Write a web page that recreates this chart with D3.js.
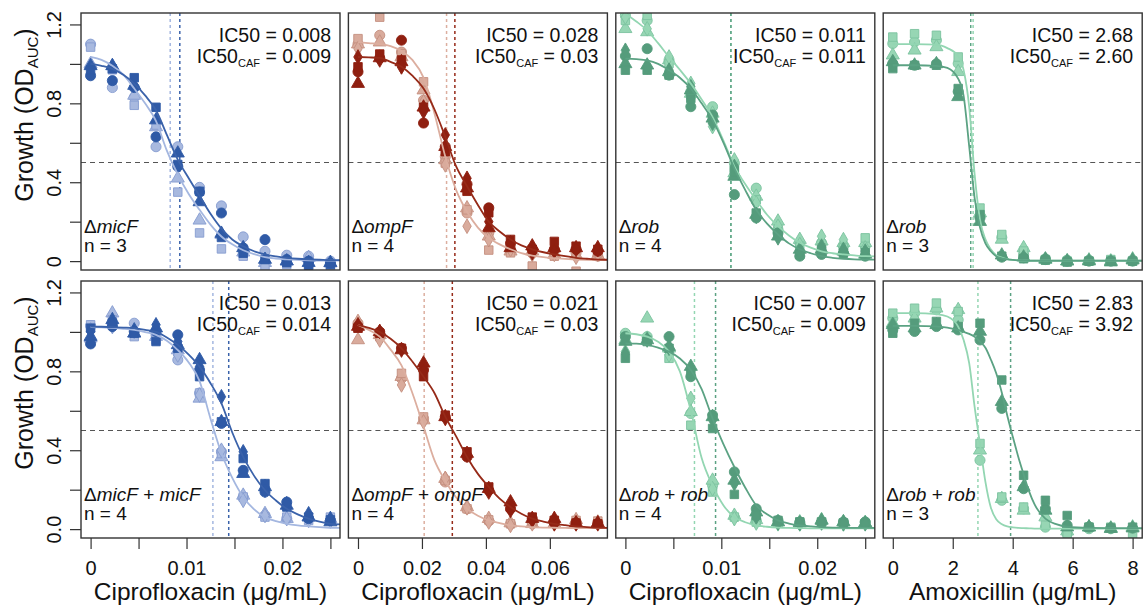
<!DOCTYPE html>
<html>
<head>
<meta charset="utf-8">
<script src="https://cdn.jsdelivr.net/npm/d3@7"></script>
<style>
  body { margin: 0; background: #fff; }
  svg { display: block; font-family: "Liberation Sans", Arial, sans-serif; }
</style>
</head>
<body>
<svg width="1146" height="608"></svg>
<script>
// concentrations (x values of the 12 wells)
const ciproLow = [0, 0.00227, 0.00455, 0.00682, 0.00909, 0.01136, 0.01364, 0.01591, 0.01818, 0.02045, 0.02273, 0.025];
const ciproHigh = [0, 0.0068, 0.0136, 0.0205, 0.0273, 0.0341, 0.0409, 0.0477, 0.0545, 0.0614, 0.0682, 0.075];
const amox = [0, 0.727, 1.455, 2.182, 2.909, 3.636, 4.364, 5.091, 5.818, 6.545, 7.273, 8];

// x positions where the fitted curves were read
const ciproLowFine = [0, 0.00114, 0.00227, 0.00341, 0.00455, 0.00568, 0.00682, 0.00795, 0.00909, 0.01023, 0.01136, 0.0125, 0.01364, 0.01477, 0.01591, 0.01705, 0.01818, 0.01932, 0.02045, 0.02159, 0.02273, 0.02386, 0.025, 0.026];
const ciproHighFine = [0, 0.0034, 0.0068, 0.0102, 0.0136, 0.017, 0.0205, 0.0239, 0.0273, 0.0307, 0.0341, 0.0375, 0.0409, 0.0443, 0.0477, 0.0511, 0.0545, 0.058, 0.0614, 0.0648, 0.0682, 0.0716, 0.075, 0.078];
const amoxFine = [0, 0.73, 1.45, 1.82, 2.18, 2.36, 2.55, 2.73, 2.91, 3.09, 3.27, 3.45, 3.64, 3.82, 4.0, 4.18, 4.36, 4.55, 4.73, 5.09, 5.45, 5.82, 6.55, 7.27, 8, 8.32];

// replicate growth values: one row per replicate (circle, triangle, square, diamond)
const micFDark = [
  [0.94, 0.915, 0.88, 0.63, 0.48, 0.35, 0.244, 0.067, 0.109, 0.008, 0.0, -0.01],
  [0.99, 0.99, 0.89, 0.715, 0.547, 0.30, 0.14, 0.067, 0.008, 0.0, -0.008, -0.008],
  [0.97, 0.975, 0.93, 0.78, 0.49, 0.354, 0.12, 0.04, 0.008, -0.008, -0.025, -0.017]
];
const micFLight = [
  [1.10, 0.88, 0.83, 0.58, 0.58, 0.374, 0.28, 0.123, 0.05, 0.03, 0.025, 0.0],
  [1.00, 0.99, 0.84, 0.68, 0.42, 0.207, 0.135, 0.045, -0.008, 0.0, 0.017, -0.01],
  [1.085, 0.97, 0.79, 0.69, 0.35, 0.143, 0.062, 0.025, -0.025, -0.017, -0.017, -0.025]
];
const ompFDark = [
  [0.96, 1.03, 1.12, 0.70, 0.58, 0.39, 0.27, 0.09, 0.06, 0.06, 0.06, 0.05],
  [0.90, 1.03, 1.01, 0.78, 0.58, 0.37, 0.168, 0.067, 0.076, 0.067, 0.067, 0.067],
  [0.985, 1.05, 1.02, 0.78, 0.555, 0.354, 0.245, 0.11, 0.06, 0.10, 0.076, 0.06],
  [1.035, 1.02, 0.985, 0.758, 0.64, 0.42, 0.20, 0.093, 0.042, 0.05, 0.059, 0.059]
];
const ompFLight = [
  [1.10, 1.145, 1.06, 0.816, 0.53, 0.244, 0.143, 0.067, 0.04, 0.051, 0.042, 0.025],
  [1.10, 1.11, 1.035, 0.867, 0.513, 0.269, 0.126, 0.05, 0.051, 0.034, 0.03, 0.03],
  [1.128, 1.237, 1.052, 0.909, 0.497, 0.26, 0.056, 0.042, -0.025, 0.025, -0.051, 0.042],
  [1.077, 1.035, 0.985, 0.808, 0.488, 0.177, 0.109, 0.059, 0.034, 0.034, 0.02, 0.034]
];
const robCipDark = [
  [1.04, 1.077, 0.943, 0.783, 0.741, 0.337, 0.219, 0.143, 0.025, 0.034, 0.04, 0.025],
  [1.0, 0.993, 0.96, 0.867, 0.724, 0.429, 0.236, 0.126, 0.059, 0.059, 0.05, 0.034],
  [0.968, 0.968, 0.943, 0.825, 0.732, 0.455, 0.244, 0.135, 0.034, 0.051, 0.04, 0.042],
  [1.069, 0.985, 0.968, 0.884, 0.699, 0.48, 0.227, 0.118, 0.042, 0.076, 0.06, 0.051]
];
const robCipLight = [
  [1.246, 1.22, 1.019, 0.859, 0.783, 0.497, 0.37, 0.16, 0.093, 0.093, 0.076, 0.076],
  [1.178, 1.162, 1.019, 0.85, 0.749, 0.446, 0.328, 0.202, 0.109, 0.101, 0.093, 0.093],
  [1.22, 1.246, 1.002, 0.842, 0.715, 0.471, 0.311, 0.16, 0.076, 0.067, 0.067, 0.118],
  [1.237, 1.178, 1.035, 0.901, 0.682, 0.513, 0.295, 0.177, 0.084, 0.126, 0.109, 0.067]
];
const robAmoxDark = [
  [1.002, 0.993, 1.0, 0.859, 0.219, 0.02, 0.017, 0.008, 0.0, 0.0, 0.0, 0.0],
  [1.01, 0.993, 1.0, 0.833, 0.20, 0.03, 0.02, 0.01, 0.0, 0.0, -0.005, 0.005],
  [0.976, 0.993, 0.993, 0.875, 0.236, 0.025, 0.012, 0.005, -0.005, 0.0, 0.0, 0.0]
];
const robAmoxLight = [
  [1.103, 1.111, 1.12, 1.002, 0.227, 0.12, 0.034, 0.012, 0.005, 0.005, 0.005, 0.005],
  [1.044, 1.069, 1.086, 0.96, 0.244, 0.11, 0.067, 0.008, 0.0, 0.005, 0.0, 0.01],
  [1.136, 1.153, 1.145, 1.035, 0.269, 0.135, 0.051, 0.008, 0.0, 0.0, 0.008, 0.0]
];
const micFCompDark = [
  [0.939, 1.027, 1.002, 1.002, 0.985, 0.807, 0.536, 0.298, 0.188, 0.137, 0.053, 0.044],
  [0.976, 1.061, 0.993, 1.019, 0.934, 0.858, 0.544, 0.281, 0.214, 0.12, 0.061, 0.036],
  [1.019, 1.044, 0.993, 0.951, 0.917, 0.773, 0.544, 0.358, 0.231, 0.112, 0.061, 0.047],
  [1.002, 1.036, 1.01, 1.036, 0.951, 0.824, 0.671, 0.392, 0.197, 0.129, 0.078, 0.053]
];
const micFCompLight = [
  [1.031, 1.036, 1.044, 0.985, 0.858, 0.69, 0.392, 0.163, 0.069, 0.053, 0.053, 0.044],
  [0.968, 1.095, 0.993, 0.976, 0.908, 0.663, 0.366, 0.171, 0.078, 0.053, 0.061, 0.053],
  [1.036, 1.061, 0.976, 0.959, 0.90, 0.69, 0.383, 0.163, 0.061, 0.061, 0.044, 0.061],
  [1.01, 1.027, 1.002, 0.976, 0.883, 0.68, 0.40, 0.146, 0.069, 0.053, 0.044, 0.041]
];
const ompFCompDark = [
  [1.027, 1.0, 0.917, 0.807, 0.569, 0.366, 0.197, 0.103, 0.053, 0.031, 0.031, 0.027],
  [1.027, 1.0, 0.908, 0.841, 0.569, 0.383, 0.205, 0.137, 0.053, 0.053, 0.031, 0.031],
  [1.019, 0.993, 0.917, 0.773, 0.578, 0.392, 0.214, 0.112, 0.061, 0.044, 0.031, 0.027],
  [1.036, 1.002, 0.908, 0.798, 0.561, 0.375, 0.188, 0.095, 0.044, 0.027, 0.027, 0.027]
];
const ompFCompLight = [
  [1.044, 0.976, 0.764, 0.561, 0.239, 0.103, 0.041, 0.027, 0.027, 0.036, 0.036, 0.036],
  [0.959, 0.985, 0.773, 0.553, 0.256, 0.112, 0.053, 0.031, 0.027, 0.027, 0.047, 0.031],
  [1.019, 0.976, 0.79, 0.569, 0.247, 0.103, 0.047, 0.027, 0.031, 0.044, 0.044, 0.041],
  [1.053, 0.959, 0.731, 0.544, 0.256, 0.108, 0.036, 0.019, 0.027, 0.027, 0.027, 0.036]
];
const robCipCompDark = [
  [0.976, 0.959, 0.976, 0.773, 0.578, 0.29, 0.103, 0.044, 0.036, 0.036, 0.036, 0.036],
  [0.951, 0.959, 0.925, 0.824, 0.569, 0.247, 0.086, 0.036, 0.031, 0.044, 0.036, 0.031],
  [0.866, 0.951, 0.917, 0.79, 0.51, 0.176, 0.069, 0.044, 0.036, 0.036, 0.031, 0.027],
  [0.892, 0.959, 0.917, 0.807, 0.553, 0.231, 0.061, 0.031, 0.027, 0.031, 0.027, 0.027]
];
const robCipCompLight = [
  [0.993, 0.976, 0.908, 0.586, 0.222, 0.061, 0.044, 0.036, 0.031, 0.031, 0.031, 0.036],
  [0.959, 1.069, 0.917, 0.595, 0.247, 0.069, 0.047, 0.036, 0.036, 0.047, 0.036, 0.031],
  [0.976, 0.959, 0.866, 0.527, 0.188, 0.061, 0.036, 0.031, 0.036, 0.036, 0.031, 0.027],
  [0.90, 0.968, 0.883, 0.663, 0.205, 0.053, 0.031, 0.027, 0.027, 0.036, 0.027, 0.031]
];
const robAmoxCompDark = [
  [1.01, 1.002, 1.027, 1.01, 0.959, 0.612, 0.205, 0.103, 0.019, 0.01, 0.005, 0.005],
  [1.036, 1.019, 1.036, 1.019, 1.002, 0.646, 0.214, 0.095, 0.01, 0.01, 0.002, 0.005],
  [0.993, 1.044, 1.053, 1.027, 1.044, 0.756, 0.273, 0.146, 0.069, 0.01, 0.005, 0.01]
];
const robAmoxCompLight = [
  [1.069, 1.095, 1.112, 1.061, 0.349, 0.146, 0.103, 0.01, -0.024, 0.002, 0.002, 0.002],
  [1.044, 1.069, 1.12, 1.112, 0.40, 0.154, 0.095, 0.061, -0.01, 0.01, 0.005, 0.01],
  [1.095, 1.12, 1.146, 1.103, 0.434, 0.163, 0.112, 0.019, -0.024, 0.01, 0.01, -0.024]
];

// fitted curves, read at the *Fine x positions
const micFDarkFit = [1.00, 0.99, 0.975, 0.945, 0.90, 0.84, 0.765, 0.64, 0.515, 0.42, 0.33, 0.24, 0.165, 0.11, 0.075, 0.05, 0.034, 0.024, 0.017, 0.012, 0.009, 0.007, 0.005, 0.005];
const micFLightFit = [1.035, 1.02, 0.99, 0.945, 0.875, 0.80, 0.71, 0.56, 0.44, 0.34, 0.26, 0.185, 0.125, 0.085, 0.055, 0.035, 0.02, 0.013, 0.009, 0.006, 0.004, 0.003, 0.003, 0.003];
const ompFDarkFit = [1.035, 1.033, 1.03, 1.01, 0.985, 0.94, 0.875, 0.77, 0.63, 0.48, 0.38, 0.285, 0.20, 0.15, 0.11, 0.08, 0.06, 0.045, 0.034, 0.025, 0.017, 0.012, 0.008, 0.007];
const ompFLightFit = [1.11, 1.105, 1.10, 1.09, 1.065, 1.02, 0.93, 0.75, 0.53, 0.36, 0.25, 0.17, 0.118, 0.085, 0.06, 0.04, 0.028, 0.02, 0.015, 0.011, 0.008, 0.006, 0.005, 0.005];
const robCipDarkFit = [1.027, 1.024, 1.018, 1.0, 0.968, 0.93, 0.875, 0.80, 0.715, 0.60, 0.47, 0.36, 0.26, 0.19, 0.135, 0.09, 0.06, 0.04, 0.025, 0.017, 0.012, 0.009, 0.008, 0.008];
const robCipLightFit = [1.254, 1.215, 1.17, 1.105, 1.035, 0.97, 0.90, 0.82, 0.73, 0.61, 0.48, 0.39, 0.31, 0.235, 0.177, 0.13, 0.093, 0.068, 0.05, 0.04, 0.034, 0.029, 0.025, 0.024];
const robAmoxDarkFit = [0.993, 0.993, 0.99, 0.98, 0.925, 0.84, 0.58, 0.32, 0.17, 0.09, 0.05, 0.025, 0.014, 0.009, 0.006, 0.004, 0.003, 0.002, 0.002, 0.002, 0.002, 0.002, 0.002, 0.002, 0.002, 0.002];
const robAmoxLightFit = [1.10, 1.10, 1.098, 1.08, 1.04, 0.97, 0.78, 0.44, 0.21, 0.11, 0.06, 0.03, 0.018, 0.01, 0.006, 0.004, 0.003, 0.003, 0.003, 0.003, 0.003, 0.003, 0.003, 0.003, 0.003, 0.003];
const micFCompDarkFit = [1.027, 1.026, 1.024, 1.022, 1.019, 1.01, 1.0, 0.972, 0.934, 0.885, 0.824, 0.74, 0.637, 0.49, 0.366, 0.27, 0.197, 0.145, 0.103, 0.075, 0.053, 0.038, 0.027, 0.024];
const micFCompLightFit = [1.024, 1.023, 1.02, 1.016, 1.01, 0.999, 0.985, 0.955, 0.908, 0.845, 0.75, 0.56, 0.385, 0.26, 0.163, 0.10, 0.061, 0.04, 0.027, 0.019, 0.014, 0.01, 0.007, 0.006];
const ompFCompDarkFit = [1.036, 1.02, 1.0, 0.965, 0.917, 0.85, 0.773, 0.69, 0.57, 0.47, 0.366, 0.28, 0.214, 0.155, 0.112, 0.078, 0.053, 0.038, 0.027, 0.02, 0.014, 0.01, 0.007, 0.006];
const ompFCompLightFit = [1.036, 1.01, 0.976, 0.91, 0.83, 0.69, 0.52, 0.35, 0.245, 0.16, 0.103, 0.068, 0.044, 0.03, 0.019, 0.014, 0.01, 0.008, 0.007, 0.006, 0.005, 0.005, 0.005, 0.005];
const robCipCompDarkFit = [0.942, 0.94, 0.934, 0.92, 0.9, 0.865, 0.807, 0.71, 0.56, 0.43, 0.315, 0.21, 0.12, 0.075, 0.044, 0.028, 0.019, 0.014, 0.01, 0.008, 0.007, 0.006, 0.006, 0.006];
const robCipCompLightFit = [0.993, 0.988, 0.976, 0.95, 0.9, 0.8, 0.6, 0.36, 0.22, 0.12, 0.061, 0.035, 0.019, 0.012, 0.008, 0.006, 0.005, 0.004, 0.004, 0.004, 0.004, 0.004, 0.004, 0.004];
const robAmoxCompDarkFit = [1.03, 1.03, 1.028, 1.022, 1.01, 1.0, 0.99, 0.975, 0.95, 0.92, 0.86, 0.79, 0.69, 0.575, 0.47, 0.37, 0.28, 0.19, 0.125, 0.053, 0.025, 0.012, 0.006, 0.005, 0.005, 0.005];
const robAmoxCompLightFit = [1.095, 1.095, 1.09, 1.078, 1.027, 0.96, 0.84, 0.62, 0.43, 0.24, 0.11, 0.05, 0.025, 0.014, 0.009, 0.006, 0.005, 0.004, 0.003, 0.003, 0.003, 0.003, 0.003, 0.003, 0.003, 0.003];

// IC50 (light = no caffeine, dark = caffeine)
const ic50Light = [0.0083, 0.0277, 0.011, 2.68, 0.01275, 0.0207, 0.0072, 2.84];
const ic50Dark = [0.0093, 0.0303, 0.011, 2.60, 0.0144, 0.0295, 0.0094, 3.93];
const ic50Text = ['0.008', '0.028', '0.011', '2.68', '0.013', '0.021', '0.007', '2.83'];
const ic50CafText = ['0.009', '0.03', '0.011', '2.60', '0.014', '0.03', '0.009', '3.92'];
const strainLabels = ['ΔmicF', 'ΔompF', 'Δrob', 'Δrob', 'ΔmicF + micF', 'ΔompF + ompF', 'Δrob + rob', 'Δrob + rob'];
const nReps = [3, 4, 4, 3, 4, 4, 4, 3];

const yTicks = [0, 0.2, 0.4, 0.6, 0.8, 1.0, 1.2];
const yTickLabels = [['0', '', '0.4', '', '0.8', '', '1.2'], ['0.0', '', '0.4', '', '0.8', '', '1.2']];
const ciproLowTicks = [0, 0.005, 0.01, 0.015, 0.02, 0.025];
const ciproLowTickLabels = ['0', '', '0.01', '', '0.02', ''];
const ciproHighTicks = [0, 0.02, 0.04, 0.06];
const ciproHighTickLabels = ['0', '0.02', '0.04', '0.06'];
const amoxTicks = [0, 2, 4, 6, 8];
const amoxTickLabels = ['0', '2', '4', '6', '8'];

const themes = {
  blue: { dark: '#2f5aa6', lightFill: '#a8b9df', lightStroke: '#869cd0', darkLine: '#3a62aa', lightLine: '#a4b7e0' },
  red: { dark: '#8f1f10', lightFill: '#d9ab9c', lightStroke: '#c48f7f', darkLine: '#962a18', lightLine: '#dcae9f' },
  green: { dark: '#559c7c', lightFill: '#97d6b4', lightStroke: '#7cc39f', darkLine: '#5ba283', lightLine: '#93d6b2' }
};

const drug = [
  { conc: ciproLow, fine: ciproLowFine, ticks: ciproLowTicks, tickLabels: ciproLowTickLabels, title: 'Ciprofloxacin (μg/mL)' },
  { conc: ciproHigh, fine: ciproHighFine, ticks: ciproHighTicks, tickLabels: ciproHighTickLabels, title: 'Ciprofloxacin (μg/mL)' },
  { conc: amox, fine: amoxFine, ticks: amoxTicks, tickLabels: amoxTickLabels, title: 'Amoxicillin (μg/mL)' }
];

const panels = [
  { drug: 0, theme: 'blue', dark: micFDark, light: micFLight, fitDark: micFDarkFit, fitLight: micFLightFit },
  { drug: 1, theme: 'red', dark: ompFDark, light: ompFLight, fitDark: ompFDarkFit, fitLight: ompFLightFit },
  { drug: 0, theme: 'green', dark: robCipDark, light: robCipLight, fitDark: robCipDarkFit, fitLight: robCipLightFit },
  { drug: 2, theme: 'green', dark: robAmoxDark, light: robAmoxLight, fitDark: robAmoxDarkFit, fitLight: robAmoxLightFit },
  { drug: 0, theme: 'blue', dark: micFCompDark, light: micFCompLight, fitDark: micFCompDarkFit, fitLight: micFCompLightFit },
  { drug: 1, theme: 'red', dark: ompFCompDark, light: ompFCompLight, fitDark: ompFCompDarkFit, fitLight: ompFCompLightFit },
  { drug: 0, theme: 'green', dark: robCipCompDark, light: robCipCompLight, fitDark: robCipCompDarkFit, fitLight: robCipCompLightFit },
  { drug: 2, theme: 'green', dark: robAmoxCompDark, light: robAmoxCompLight, fitDark: robAmoxCompDarkFit, fitLight: robAmoxCompLightFit }
];

// layout
const FONT = '"Liberation Sans", Arial, sans-serif';
const left0 = 81, panelW = 259, colStep = 267.4, panelH = 257;
const rowTop = [13, 281];
const yDomain = [-0.045, 1.258];

const svg = d3.select('svg');
const shapes = [d3.symbolCircle, d3.symbolTriangle, d3.symbolSquare, d3.symbolDiamond];
const shapeSize = [80, 74, 72, 62];

panels.forEach((p, k) => {
  const row = Math.floor(k / 4), col = k % 4;
  const dr = drug[p.drug];
  const th = themes[p.theme];
  const x0 = left0 + col * colStep, y0 = rowTop[row];
  const [lo, hi] = d3.extent(dr.conc);
  const pad = (hi - lo) * 0.04;
  const x = d3.scaleLinear().domain([lo - pad, hi + pad]).range([x0, x0 + panelW]);
  const y = d3.scaleLinear().domain(yDomain).range([y0 + panelH, y0]);

  const clipId = 'clip' + k;
  svg.append('clipPath').attr('id', clipId)
    .append('rect').attr('x', x0).attr('y', y0).attr('width', panelW).attr('height', panelH);

  const g = svg.append('g').attr('clip-path', `url(#${clipId})`);

  // 50% guide
  g.append('line')
    .attr('x1', x0).attr('x2', x0 + panelW)
    .attr('y1', y(0.5)).attr('y2', y(0.5))
    .attr('stroke', '#555').attr('stroke-width', 1.1).attr('stroke-dasharray', '5,4');

  // IC50 markers
  [[ic50Light[k], th.lightLine], [ic50Dark[k], th.darkLine]].forEach(([v, c]) => {
    g.append('line')
      .attr('x1', x(v)).attr('x2', x(v))
      .attr('y1', y0).attr('y2', y0 + panelH)
      .attr('stroke', c).attr('stroke-width', 1.5).attr('stroke-dasharray', '3,3');
  });

  // replicate points
  const drawReps = (reps, fill, stroke) => {
    reps.slice(0, nReps[k]).forEach((vals, r) => {
      g.selectAll(null).data(vals).enter().append('path')
        .attr('d', d3.symbol().type(shapes[r]).size(shapeSize[r]))
        .attr('transform', (d, i) => `translate(${x(dr.conc[i])},${y(d)})`)
        .attr('fill', fill)
        .attr('stroke', stroke)
        .attr('stroke-width', 0.9);
    });
  };
  drawReps(p.light, th.lightFill, th.lightStroke);
  drawReps(p.dark, th.dark, th.dark);

  // fitted curves
  const line = d3.line().x((d, i) => x(dr.fine[i])).y(d => y(d)).curve(d3.curveMonotoneX);
  g.append('path').attr('d', line(p.fitLight)).attr('fill', 'none')
    .attr('stroke', th.lightLine).attr('stroke-width', 1.8);
  g.append('path').attr('d', line(p.fitDark)).attr('fill', 'none')
    .attr('stroke', th.darkLine).attr('stroke-width', 1.8);

  // frame
  svg.append('rect')
    .attr('x', x0).attr('y', y0).attr('width', panelW).attr('height', panelH)
    .attr('fill', 'none').attr('stroke', '#333').attr('stroke-width', 1.4);

  // IC50 annotation
  svg.append('text')
    .attr('x', x0 + panelW - 9).attr('y', y0 + 28.5)
    .attr('text-anchor', 'end').attr('font-size', 19.5).attr('fill', '#111').attr('font-family', FONT)
    .text(`IC50 = ${ic50Text[k]}`);
  const t2 = svg.append('text')
    .attr('x', x0 + panelW - 9).attr('y', y0 + 49.5)
    .attr('text-anchor', 'end').attr('font-size', 19.5).attr('fill', '#111').attr('font-family', FONT);
  t2.append('tspan').text('IC50');
  t2.append('tspan').attr('font-size', 11).attr('dy', 4).text('CAF');
  t2.append('tspan').attr('dy', -4).text(` = ${ic50CafText[k]}`);

  // strain label
  const lab = svg.append('text')
    .attr('x', x0 + 3).attr('y', y0 + panelH - 37)
    .attr('font-size', 19).attr('fill', '#111').attr('font-family', FONT);
  strainLabels[k].split(' + ').forEach((part, j) => {
    if (j > 0) lab.append('tspan').text(' + ');
    lab.append('tspan').text(part[0] === 'Δ' ? 'Δ' : '');
    lab.append('tspan').attr('font-style', 'italic').text(part.replace('Δ', ''));
  });
  svg.append('text')
    .attr('x', x0 + 3).attr('y', y0 + panelH - 18)
    .attr('font-size', 19).attr('fill', '#111').attr('font-family', FONT)
    .text(`n = ${nReps[k]}`);

  // y axis on the first column
  if (col === 0) {
    const ay = svg.append('g')
      .call(d3.axisLeft(y).tickValues(yTicks).tickSize(11).tickFormat((d, i) => yTickLabels[row][i]))
      .attr('transform', `translate(${x0},0)`)
      .attr('font-size', 20).attr('font-family', FONT)
      .style('color', '#333');
    ay.select('.domain').remove();
    ay.selectAll('line').attr('stroke-width', 1.2);
    ay.selectAll('text')
      .attr('transform', 'rotate(-90)')
      .attr('x', 0).attr('y', -20).attr('dy', 0)
      .attr('text-anchor', 'middle').attr('fill', '#111');

    const yt = svg.append('text')
      .attr('transform', `translate(33,${y0 + 102}) rotate(-90)`)
      .attr('text-anchor', 'middle').attr('font-size', 25).attr('fill', '#111').attr('font-family', FONT);
    yt.append('tspan').text('Growth (OD');
    yt.append('tspan').attr('font-size', 15).attr('dy', 5).text('AUC');
    yt.append('tspan').attr('dy', -5).text(')');
  }

  // x axis on the bottom row
  if (row === 1) {
    const ax = svg.append('g')
      .attr('transform', `translate(0,${y0 + panelH})`)
      .call(d3.axisBottom(x).tickValues(dr.ticks).tickSize(11).tickPadding(12)
        .tickFormat((d, i) => dr.tickLabels[i]))
      .attr('font-size', 20).attr('font-family', FONT)
      .style('color', '#333');
    ax.select('.domain').remove();
    ax.selectAll('line').attr('stroke-width', 1.2);
    ax.selectAll('text').attr('fill', '#111');

    svg.append('text')
      .attr('x', x0 + panelW / 2).attr('y', 600)
      .attr('text-anchor', 'middle').attr('font-size', 24.5).attr('fill', '#111').attr('font-family', FONT)
      .text(dr.title);
  }
});
</script>
</body>
</html>
